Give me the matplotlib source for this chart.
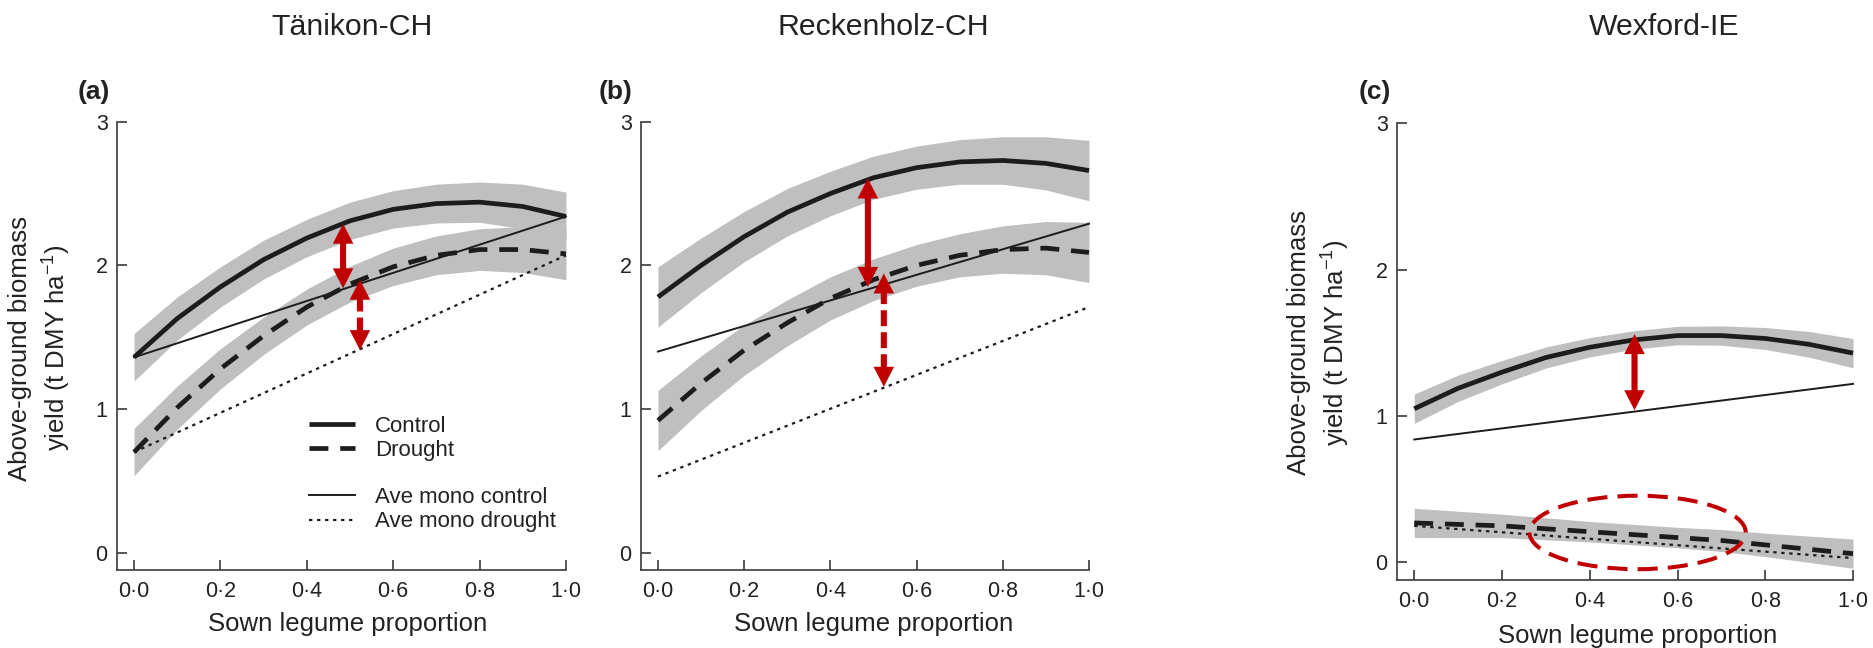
import numpy as np
import matplotlib
matplotlib.use("Agg")
import matplotlib.pyplot as plt
from matplotlib.patches import Ellipse, ArrowStyle

plt.rcParams['font.family'] = ['Liberation Sans', 'DejaVu Sans']
plt.rcParams['mathtext.fontset'] = 'custom'
plt.rcParams['mathtext.rm'] = 'Liberation Sans'
plt.rcParams['mathtext.it'] = 'Liberation Sans:italic'
plt.rcParams['mathtext.bf'] = 'Liberation Sans:bold'

# ----------------------------
# DATA: fitted yield (t DMY/ha) vs sown legume proportion
# ----------------------------
prop = [0.0, 0.1, 0.2, 0.3, 0.4, 0.5, 0.6, 0.7, 0.8, 0.9, 1.0]
mono_prop = [0.0, 1.0]

sites = ["Tänikon-CH", "Reckenholz-CH", "Wexford-IE"]
tags = ["(a)", "(b)", "(c)"]

# Tänikon
tan_control = [1.36, 1.63, 1.85, 2.04, 2.19, 2.31, 2.39, 2.43, 2.44, 2.41, 2.34]
tan_control_ci = [0.165, 0.15, 0.14, 0.135, 0.13, 0.13, 0.13, 0.135, 0.14, 0.155, 0.17]
tan_drought = [0.70, 1.01, 1.28, 1.51, 1.71, 1.87, 1.99, 2.07, 2.11, 2.11, 2.08]
tan_drought_ci = [0.165, 0.15, 0.14, 0.13, 0.125, 0.125, 0.13, 0.135, 0.145, 0.16, 0.18]
tan_mono_control = [1.36, 2.34]
tan_mono_drought = [0.70, 2.07]

# Reckenholz
rec_control = [1.78, 2.00, 2.20, 2.37, 2.50, 2.61, 2.68, 2.72, 2.73, 2.71, 2.66]
rec_control_ci = [0.21, 0.19, 0.175, 0.165, 0.155, 0.15, 0.15, 0.155, 0.165, 0.185, 0.21]
rec_drought = [0.92, 1.18, 1.41, 1.60, 1.77, 1.90, 2.00, 2.07, 2.11, 2.12, 2.09]
rec_drought_ci = [0.21, 0.19, 0.175, 0.16, 0.15, 0.145, 0.145, 0.15, 0.165, 0.185, 0.21]
rec_mono_control = [1.40, 2.29]
rec_mono_drought = [0.53, 1.71]

# Wexford
wex_control = [1.05, 1.19, 1.30, 1.40, 1.47, 1.52, 1.55, 1.55, 1.53, 1.49, 1.43]
wex_control_ci = [0.10, 0.09, 0.08, 0.072, 0.066, 0.063, 0.063, 0.066, 0.075, 0.088, 0.10]
wex_drought = [0.27, 0.26, 0.25, 0.23, 0.21, 0.19, 0.17, 0.15, 0.12, 0.09, 0.06]
wex_drought_ci = [0.10, 0.09, 0.08, 0.075, 0.07, 0.07, 0.07, 0.075, 0.08, 0.09, 0.10]
wex_mono_control = [0.84, 1.22]
wex_mono_drought = [0.25, 0.03]

# overyielding arrows: (proportion, lower end, upper end, dashed shaft)
tan_arrows = [(0.484, 1.84, 2.29, False), (0.523, 1.41, 1.90, True)]
rec_arrows = [(0.487, 1.85, 2.605, False), (0.524, 1.155, 1.944, True)]
wex_arrows = [(0.502, 1.04, 1.56, False)]

# no drought overyielding at Wexford (ellipse centre, width, height)
wex_ellipse = (0.509, 0.205, 0.493, 0.502)

# ----------------------------
# STYLE
# ----------------------------
band_col = '#bfbfbf'
line_col = '#1c1c1c'
red = '#c00000'
axis_col = '#3a3a3a'
dash_thick = (0, (4, 2.5))
dot_thin = (0, (1.5, 2.1))

fig = plt.figure(figsize=(18.74, 6.48), dpi=100)

ax_a = fig.add_axes([0.0623, 0.1204, 0.2397, 0.6918])
ax_b = fig.add_axes([0.3419, 0.1204, 0.2392, 0.6918])
ax_c = fig.add_axes([0.7453, 0.1049, 0.2435, 0.7048])

panels = [
    (ax_a, tan_control, tan_control_ci, tan_drought, tan_drought_ci,
     tan_mono_control, tan_mono_drought, tan_arrows),
    (ax_b, rec_control, rec_control_ci, rec_drought, rec_drought_ci,
     rec_mono_control, rec_mono_drought, rec_arrows),
    (ax_c, wex_control, wex_control_ci, wex_drought, wex_drought_ci,
     wex_mono_control, wex_mono_drought, wex_arrows),
]

head = ArrowStyle('<|-|>', head_length=14.4, head_width=7.4)

for ax, ctl, ctl_ci, dro, dro_ci, m_ctl, m_dro, arrows in panels:
    ctl = np.array(ctl)
    dro = np.array(dro)
    ax.fill_between(prop, ctl - np.array(ctl_ci), ctl + np.array(ctl_ci),
                    color=band_col, lw=0, zorder=1)
    ax.fill_between(prop, dro - np.array(dro_ci), dro + np.array(dro_ci),
                    color=band_col, lw=0, zorder=1)
    ax.plot(prop, ctl, color=line_col, lw=3.4, solid_capstyle='butt',
            zorder=3, clip_on=False)
    ax.plot(prop, dro, color=line_col, lw=3.4, ls=dash_thick,
            dash_capstyle='butt', zorder=3, clip_on=False)
    ax.plot(mono_prop, m_ctl, color=line_col, lw=1.4, zorder=2, clip_on=False)
    ax.plot(mono_prop, m_dro, color=line_col, lw=1.6, ls=dot_thin, zorder=2,
            clip_on=False)

    for x, y0, y1, dashed in arrows:
        ax.annotate('', xy=(x, y1), xytext=(x, y0),
                    arrowprops=dict(arrowstyle='-', color=red, lw=4.4,
                                    ls=(0, (2.6, 1.0)) if dashed else '-',
                                    capstyle='butt', shrinkA=12, shrinkB=12),
                    zorder=5)
        ax.annotate('', xy=(x, y1), xytext=(x, y0),
                    arrowprops=dict(arrowstyle=head, mutation_scale=1,
                                    fc=red, ec='none', lw=0,
                                    shrinkA=0, shrinkB=0),
                    zorder=6)

    ax.set_xlim(-0.04, 1.0)
    ax.set_ylim(-0.12, 3.0)
    ax.spines[['top', 'right']].set_visible(False)
    for s in ['left', 'bottom']:
        ax.spines[s].set_color(axis_col)
        ax.spines[s].set_linewidth(1.2)
    xt = [0.0, 0.2, 0.4, 0.6, 0.8, 1.0]
    ax.set_xticks(xt)
    ax.set_xticklabels([f"{v:.1f}".replace('.', '\u00b7') for v in xt])
    ax.set_yticks([0, 1, 2, 3])
    ax.set_yticklabels(['0', '1', '2', '3'])
    ax.tick_params(direction='in', length=7.5, width=1.2, color=axis_col,
                   labelsize=15.5, labelcolor='#222222')
    ax.tick_params(axis='x', pad=8)
    ax.tick_params(axis='y', pad=6.5)
    ax.set_xlabel('Sown legume proportion', fontsize=18.5, color='#222222')

ax_a.xaxis.set_label_coords(0.513, -0.094)
ax_b.xaxis.set_label_coords(0.520, -0.094)
ax_c.xaxis.set_label_coords(0.528, -0.096)

ylab = 'Above-ground biomass\nyield (t DMY ha$^{-1}$)'
for ax, yc in [(ax_a, 0.495), (ax_c, 0.52)]:
    ax.set_ylabel(ylab, fontsize=18.5, color='#222222', linespacing=1.35)
    ax.yaxis.set_label_coords(-0.098, yc)

# dashed ellipse around the Wexford drought curves
ex, ey, ew, eh = wex_ellipse
ax_c.add_patch(Ellipse((ex, ey), ew, eh, fill=False, ec=red, lw=2.9,
                       ls=(0, (5, 2.5)), zorder=7))

# legend (panel a): treatments, then monoculture averages
h_ctl, = ax_a.plot([], [], color=line_col, lw=3.4, solid_capstyle='butt')
h_dro, = ax_a.plot([], [], color=line_col, lw=3.4, ls=dash_thick,
                   dash_capstyle='butt')
h_mc, = ax_a.plot([], [], color=line_col, lw=1.4)
h_md, = ax_a.plot([], [], color=line_col, lw=1.6, ls=dot_thin)
leg_kw = dict(frameon=False, fontsize=16, handlelength=2.06,
              handletextpad=0.9, labelspacing=0.15, borderpad=0,
              borderaxespad=0, loc='center left', labelcolor='#222222')
leg1 = ax_a.legend([h_ctl, h_dro], ['Control', 'Drought'],
                   bbox_to_anchor=(0.4287, 0.2933), **leg_kw)
ax_a.add_artist(leg1)
ax_a.legend([h_mc, h_md], ['Ave mono control', 'Ave mono drought'],
            bbox_to_anchor=(0.4287, 0.1345), **leg_kw)

# site titles and panel tags
for name, xpos in zip(sites, [352, 883, 1664]):
    fig.text(xpos / 1874, 1 - 35 / 648, name, ha='center', va='baseline',
             fontsize=21.8, color='#222222')
for tag, xpos in zip(tags, [78, 599, 1359]):
    fig.text(xpos / 1874, 1 - 99 / 648, tag, ha='left', va='baseline',
             fontsize=19, fontweight='bold', color='#222222')

fig.savefig('out.png', dpi=100)
